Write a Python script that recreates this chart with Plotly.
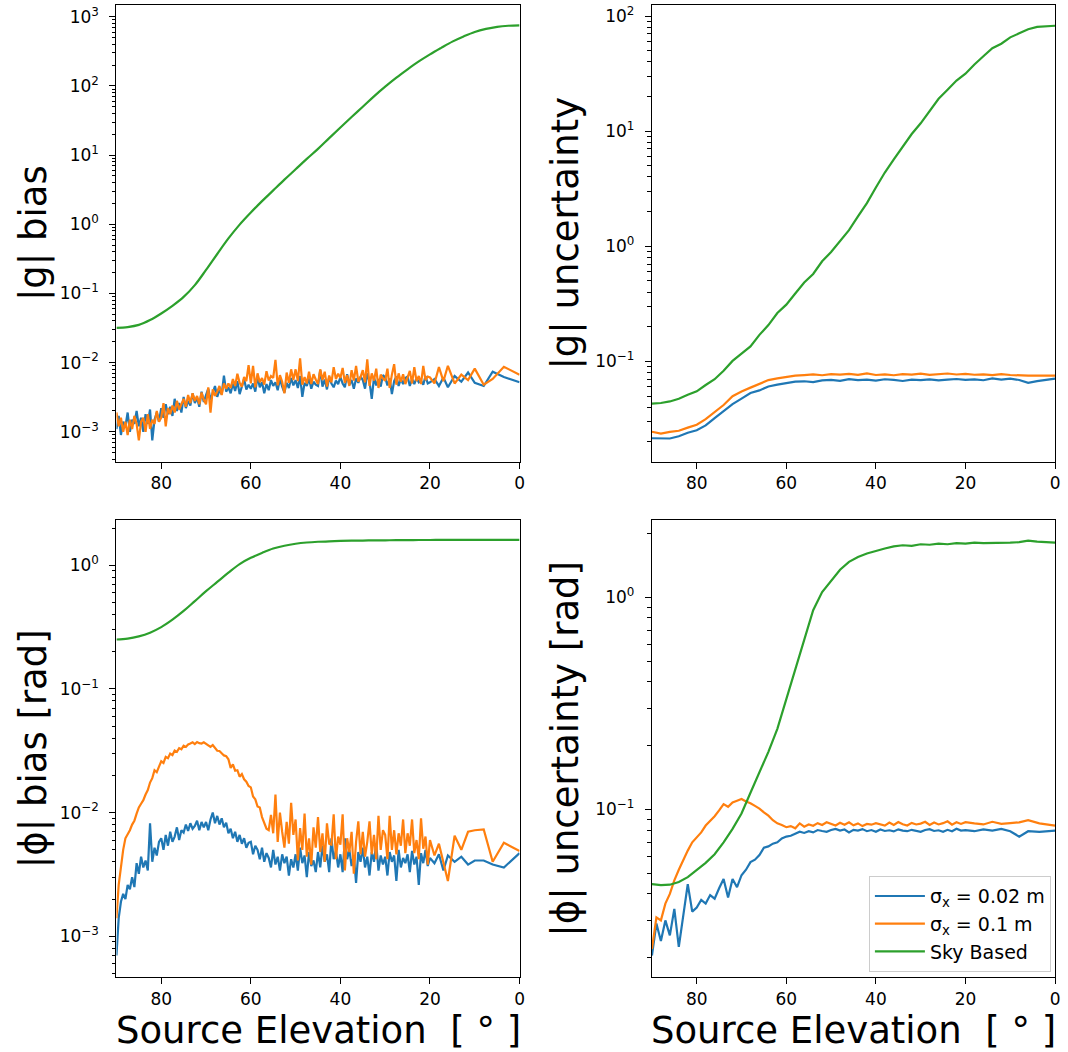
import plotly.graph_objects as go

BLUE = "#1f77b4"
ORANGE = "#ff7f0e"
GREEN = "#2ca02c"
FONT = "DejaVu Sans"

# ---- elevation grids (degrees) ----
ELEV_FINE = [90 - 0.5 * i for i in range(141)] + [19, 18, 17, 16, 14.5, 13, 11.5, 10, 8, 6, 3.5, 0]
ELEV_DENSE = list(range(90, 19, -1)) + [18, 16, 14, 12, 10, 8, 6, 3.5, 0]
ELEV_STEP2 = list(range(90, 9, -2)) + [8, 6, 4, 0]
ELEV_STEP2_FULL = list(range(90, -1, -2))
ELEV_STEP25 = [90 - 2.5 * i for i in range(37)]

SERIES_NAMES = ["σ<sub>x</sub> = 0.02 m", "σ<sub>x</sub> = 0.1 m", "Sky Based"]

# ---- |g| bias (antenna-based series in units of 1e-3) ----
g_bias_002_milli = [
    1.1, 1.7, 0.9, 1.4, 1.2, 1.9, 1.0, 1.5, 1.3, 2.0,
    1.2, 1.6, 1.0, 1.8, 1.3, 2.1, 0.75, 1.5, 1.9, 1.4,
    2.2, 1.6, 2.5, 1.8, 2.3, 1.7, 3.0, 2.0, 2.6, 1.9,
    3.2, 2.2, 2.8, 2.4, 3.6, 2.6, 3.1, 2.3, 3.8, 2.7,
    3.4, 4.2, 2.9, 3.7, 4.6, 3.2, 4.0, 3.5, 6.5, 3.8,
    4.4, 3.6, 5.0, 3.9, 5.4, 3.5, 4.6, 5.8, 4.1, 4.8,
    4.2, 5.0, 3.8, 6.3, 4.4, 5.2, 3.6, 4.9, 4.0, 5.6,
    4.6, 5.2, 4.0, 5.8, 4.5, 3.7, 5.1, 4.3, 6.0, 4.7,
    5.6, 4.3, 6.4, 3.2, 5.1, 4.6, 5.9, 4.2, 5.3, 4.8,
    4.6, 7.8, 4.5, 5.7, 4.1, 6.2, 5.0, 4.4, 5.5, 4.9,
    6.2, 5.0, 4.4, 6.8, 4.8, 5.6, 4.2, 5.9, 5.1, 6.3,
    5.6, 4.2, 7.0, 5.3, 3.0, 6.1, 4.7, 5.8, 4.5, 6.6,
    6.1, 4.7, 5.9, 3.5, 5.4, 6.3, 4.6, 5.8, 4.9, 6.0,
    6.3, 4.6, 5.8, 4.9, 6.0, 5.2, 5.5, 4.8, 6.4, 5.0,
    5.2,
    5.8, 4.6, 6.1, 4.4, 6.4, 5.3, 7.2, 5.1, 4.6, 7.4, 6.2, 5.2,
]
g_bias_01_milli = [
    1.9, 1.2, 1.6, 1.0, 1.4, 0.9, 1.5, 1.1, 1.7, 1.3,
    0.75, 1.4, 1.6, 1.0, 1.8, 1.1, 1.5, 1.3, 2.0, 1.4,
    1.6, 2.6, 1.2, 2.2, 1.8, 2.4, 1.9, 2.8, 2.1, 2.5,
    3.0, 2.3, 3.4, 2.6, 3.6, 2.8, 3.3, 2.5, 3.7, 2.9,
    2.5, 4.4, 1.9, 4.1, 3.3, 3.8, 4.6, 3.4, 5.0, 4.2,
    5.0, 4.3, 5.8, 4.6, 6.9, 5.1, 4.5, 6.2, 5.4, 9.2,
    5.0, 9.0, 4.4, 7.0, 5.2, 6.0, 4.8, 7.5, 5.5, 6.4,
    6.0, 11.0, 4.7, 6.6, 5.3, 3.6, 7.2, 5.1, 8.0, 5.6,
    8.0, 5.4, 11.5, 4.8, 6.2, 5.0, 7.4, 4.9, 6.8, 5.7,
    4.9, 8.0, 5.6, 7.4, 4.5, 6.5, 5.2, 8.6, 5.8, 6.9,
    6.0, 8.4, 5.1, 6.6, 4.6, 7.8, 5.5, 9.0, 5.3, 6.2,
    7.8, 5.2, 11.2, 4.6, 7.0, 5.5, 8.2, 4.3, 6.7, 5.9,
    5.5, 8.2, 4.3, 6.7, 9.5, 4.8, 7.0, 5.3, 6.8, 4.9,
    6.1, 7.6, 5.0, 8.6, 5.4, 6.4, 4.9, 9.0, 5.6, 6.3,
    6.1,
    5.0, 8.6, 5.4, 9.0, 5.0, 6.7, 5.6, 8.2, 4.8, 5.8, 8.7, 6.7,
]
g_bias_sky = [
    0.0319, 0.0327, 0.0351, 0.0412, 0.0513, 0.0661, 0.0891, 0.132, 0.219, 0.372,
    0.624, 0.989, 1.48, 2.16, 3.09, 4.42, 6.24, 8.81, 12.3, 17.6,
    25.1, 35.5, 50.1, 70.8, 97.7, 132, 174, 226, 286, 355,
    437, 519, 603, 668, 716, 741, 750,
]

# ---- |g| uncertainty ----
g_unc_002 = [
    0.0215, 0.0213, 0.0214, 0.0224, 0.0240, 0.0252, 0.0278, 0.0322, 0.0368, 0.0425,
    0.0475, 0.0532, 0.0560, 0.0605, 0.0628, 0.0645, 0.0668, 0.0672, 0.0662, 0.0685,
    0.0690, 0.0678, 0.0702, 0.0688, 0.0695, 0.0682, 0.0700, 0.0690, 0.0676, 0.0695,
    0.0688, 0.0698, 0.0684, 0.0694, 0.0703, 0.0690, 0.0698, 0.0686, 0.0712, 0.0694,
    0.0708,
    0.0690, 0.0652, 0.0675, 0.0708,
]
g_unc_01 = [
    0.0245, 0.0236, 0.0244, 0.0250, 0.0266, 0.0282, 0.0315, 0.0365, 0.0418, 0.0498,
    0.0548, 0.0592, 0.0640, 0.0688, 0.0712, 0.0735, 0.0752, 0.0760, 0.0770, 0.0758,
    0.0774, 0.0768, 0.0780, 0.0765, 0.0788, 0.0762, 0.0770, 0.0758, 0.0775, 0.0768,
    0.0782, 0.0764, 0.0776, 0.0785, 0.0770, 0.0778, 0.0766, 0.0772, 0.0760, 0.0775,
    0.0762,
    0.0752, 0.0752, 0.0752, 0.0752,
]
g_unc_sky = [
    0.0430, 0.0435, 0.0449, 0.0473, 0.0513, 0.0550, 0.0624, 0.0700, 0.0830, 0.1010,
    0.117, 0.135, 0.170, 0.207, 0.263, 0.311, 0.389, 0.484, 0.575, 0.741,
    0.891, 1.11, 1.38, 1.82, 2.37, 3.24, 4.37, 5.69, 7.24, 9.44,
    11.7, 14.8, 19.1, 22.9, 27.5, 31.6, 38.0, 44.7, 52.5, 57.5,
    65.3, 70.8, 76.7, 80.4, 81.7, 82.4,
]

# ---- |phi| bias [rad] (antenna-based series in units of 1e-3) ----
phi_bias_002_milli = [
    0.7, 1.4, 1.9, 2.2, 2.0, 2.6, 2.4, 3.0, 2.5, 3.9,
    3.2, 4.4, 3.6, 4.1, 3.4, 8.2, 4.0, 5.2, 4.5, 5.8,
    6.2, 5.0, 6.6, 5.4, 7.0, 5.8, 6.4, 7.6, 6.0, 7.2,
    6.9, 8.0, 7.1, 8.2, 7.4, 7.8, 8.6, 7.2, 8.4, 7.6,
    8.4, 7.2, 8.8, 10.0, 8.2, 9.4, 8.0, 9.0, 7.6, 8.3,
    6.8, 7.4, 6.2, 7.0, 5.8, 6.6, 5.6, 6.2, 5.2, 5.7,
    5.8, 4.6, 5.4, 5.0, 4.2, 5.2, 4.0, 4.7, 4.3, 3.6,
    5.0, 3.8, 4.4, 3.4, 4.6, 3.9, 4.4, 3.1, 4.2, 3.6,
    4.6, 3.4, 5.2, 3.9, 4.5, 3.0, 4.8, 3.7, 4.1, 3.3,
    4.8, 3.6, 5.4, 4.0, 4.6, 3.3, 6.2, 4.2, 4.9, 3.6,
    4.6, 3.3, 6.2, 4.2, 5.0, 3.7, 4.5, 2.7, 4.8, 4.0,
    5.2, 3.6, 4.4, 3.1, 4.8, 4.0, 5.6, 3.4, 4.5, 3.8,
    4.4, 3.1, 4.8, 4.0, 4.5, 2.8, 5.0, 3.6, 4.3, 3.9,
    4.6, 3.3, 4.9, 3.8, 4.4, 2.6, 4.7, 3.9, 5.0, 3.7,
    4.3,
    3.9, 4.6, 3.4, 4.5, 4.0, 4.4, 3.8, 4.1, 4.1, 3.8, 3.6, 4.7,
]
phi_bias_01_milli = [
    1.4, 2.6, 3.6, 5.0, 6.2, 6.6, 7.2, 8.0, 8.6, 9.8,
    11.0, 11.8, 12.6, 14.0, 15.2, 17.5, 19.0, 22.0, 21.2, 23.5,
    26.0, 25.2, 28.2, 27.5, 30.0, 29.2, 31.8, 31.0, 33.2, 32.5,
    34.8, 34.0, 35.6, 36.2, 37.0, 35.8, 37.2, 36.4, 36.2, 37.0,
    35.8, 34.6, 34.0, 35.2, 33.0, 31.6, 31.5, 30.2, 29.0, 28.6,
    27.0, 23.0, 24.5, 21.8, 22.0, 19.5, 20.5, 18.6, 17.8, 16.4,
    16.0, 13.5, 12.8, 11.2, 11.0, 9.2, 8.2, 7.4, 7.2, 9.6,
    6.8, 14.0, 5.8, 10.0, 7.0, 5.2, 8.4, 5.6, 12.0, 6.6,
    8.8, 4.1, 7.5, 5.0, 9.8, 4.4, 6.2, 3.8, 7.6, 5.2,
    9.2, 4.8, 6.8, 4.0, 8.2, 5.6, 5.5, 9.7, 4.2, 6.4,
    5.5, 9.7, 3.4, 6.2, 4.8, 7.0, 3.2, 5.8, 8.5, 4.6,
    7.0, 4.4, 5.8, 8.5, 4.6, 6.6, 4.2, 9.4, 5.0, 7.2,
    6.6, 4.2, 9.4, 5.0, 7.2, 4.6, 6.8, 5.4, 8.8, 4.7,
    6.8, 5.4, 8.8, 4.7, 6.0, 4.2, 9.0, 5.1, 6.4, 3.8,
    6.0,
    4.5, 5.6, 4.0, 2.8, 6.5, 5.0, 7.0, 7.2, 7.3, 4.0, 5.7, 4.9,
]
phi_bias_sky = [
    0.251, 0.255, 0.266, 0.285, 0.316, 0.363, 0.427, 0.513, 0.617, 0.733,
    0.871, 1.023, 1.148, 1.259, 1.365, 1.439, 1.493, 1.528, 1.549, 1.563,
    1.574, 1.581, 1.585, 1.589, 1.592, 1.596, 1.597, 1.600, 1.600, 1.603,
    1.603, 1.604, 1.605, 1.606, 1.606, 1.607, 1.607,
]

# ---- |phi| uncertainty [rad] ----
phi_unc_002 = [
    0.0205, 0.0290, 0.0240, 0.0300, 0.0255, 0.0340, 0.0225, 0.0310, 0.0445, 0.0330,
    0.0345, 0.0375, 0.0360, 0.0395, 0.0380, 0.0425, 0.0470, 0.0385, 0.0470, 0.0430,
    0.0490, 0.0520, 0.0565, 0.0580, 0.0610, 0.0660, 0.0670, 0.0690, 0.0700, 0.0730,
    0.0745, 0.0752, 0.0770, 0.0785, 0.0775, 0.0790, 0.0780, 0.0800, 0.0792, 0.0785,
    0.0800, 0.0810, 0.0795, 0.0805, 0.0780, 0.0802, 0.0795, 0.0808, 0.0790, 0.0800,
    0.0785, 0.0805, 0.0792, 0.0798, 0.0788, 0.0806, 0.0795, 0.0790, 0.0802, 0.0794,
    0.0785, 0.0800, 0.0808, 0.0792, 0.0798, 0.0785, 0.0802, 0.0790, 0.0812, 0.0795,
    0.0800,
    0.0790, 0.0805, 0.0795, 0.0810, 0.0790, 0.0745, 0.0790, 0.0785, 0.0795,
]
phi_unc_01 = [
    0.0220, 0.0310, 0.0300, 0.0360, 0.0400, 0.0463, 0.0520, 0.0580, 0.0640, 0.0700,
    0.0740, 0.0780, 0.0840, 0.0880, 0.0930, 0.0990, 0.1060, 0.1030, 0.1080, 0.1100,
    0.1120, 0.1090, 0.1070, 0.1040, 0.1010, 0.0970, 0.0935, 0.0890, 0.0860, 0.0845,
    0.0825, 0.0835, 0.0815, 0.0860, 0.0830, 0.0850, 0.0838, 0.0862, 0.0845, 0.0870,
    0.0852, 0.0840, 0.0865, 0.0848, 0.0870, 0.0842, 0.0860, 0.0835, 0.0855, 0.0848,
    0.0862, 0.0850, 0.0840, 0.0868, 0.0845, 0.0872, 0.0852, 0.0840, 0.0865, 0.0850,
    0.0858, 0.0875, 0.0845, 0.0868, 0.0850, 0.0862, 0.0880, 0.0848, 0.0870, 0.0855,
    0.0872,
    0.0860, 0.0850, 0.0875, 0.0855, 0.0862, 0.0870, 0.0890, 0.0860, 0.0840,
]
phi_unc_sky = [
    0.0445, 0.0440, 0.0442, 0.0455, 0.0480, 0.0517, 0.0560, 0.0615, 0.0700, 0.0810,
    0.0957, 0.120, 0.150, 0.187, 0.240, 0.330, 0.450, 0.620, 0.870, 1.06,
    1.20, 1.35, 1.47, 1.55, 1.61, 1.66, 1.70, 1.74, 1.76, 1.75,
    1.78, 1.77, 1.79, 1.78, 1.80, 1.79, 1.81, 1.80, 1.80, 1.81,
    1.81, 1.82, 1.85, 1.83, 1.82, 1.81,
]

MILLI = 1e-3
g_bias_002 = [v * MILLI for v in g_bias_002_milli]
g_bias_01 = [v * MILLI for v in g_bias_01_milli]
phi_bias_002 = [v * MILLI for v in phi_bias_002_milli]
phi_bias_01 = [v * MILLI for v in phi_bias_01_milli]

for arr in (g_bias_002, g_bias_01, phi_bias_002, phi_bias_01):
    assert len(arr) == len(ELEV_FINE), len(arr)
for arr in (phi_unc_002, phi_unc_01):
    assert len(arr) == len(ELEV_DENSE)
for arr in (g_unc_002, g_unc_01):
    assert len(arr) == len(ELEV_STEP2)
for arr in (g_unc_sky, phi_unc_sky):
    assert len(arr) == len(ELEV_STEP2_FULL)
for arr in (g_bias_sky, phi_bias_sky):
    assert len(arr) == len(ELEV_STEP25)

# panel -> (axis suffix, [(x, y) for each series], smooth sky curve)
panels = [
    ("", [(ELEV_FINE, g_bias_002), (ELEV_FINE, g_bias_01), (ELEV_STEP25, g_bias_sky)], True),
    ("2", [(ELEV_STEP2, g_unc_002), (ELEV_STEP2, g_unc_01), (ELEV_STEP2_FULL, g_unc_sky)], False),
    ("3", [(ELEV_FINE, phi_bias_002), (ELEV_FINE, phi_bias_01), (ELEV_STEP25, phi_bias_sky)], True),
    ("4", [(ELEV_DENSE, phi_unc_002), (ELEV_DENSE, phi_unc_01), (ELEV_STEP2_FULL, phi_unc_sky)], False),
]

fig = go.Figure()
colors = [BLUE, ORANGE, GREEN]
for idx, (suffix, series, smooth_sky) in enumerate(panels):
    for k, (xs, ys) in enumerate(series):
        shape = "spline" if (k == 2 and smooth_sky) else "linear"
        fig.add_trace(go.Scatter(
            x=xs, y=ys, mode="lines", name=SERIES_NAMES[k],
            line=dict(color=colors[k], width=2.2, shape=shape),
            xaxis="x" + suffix, yaxis="y" + suffix,
            showlegend=(idx == 3), hoverinfo="skip",
        ))

W, H = 1068, 1052


def px_x(p):
    return p / W


def px_y(p):
    return 1 - p / H


def sup_label(e):
    s = str(e).replace("-", "\u2212")
    return f"10<sup>{s}</sup>"


def log_axis(lo_exp, hi_exp, rng, dom):
    decades = list(range(lo_exp, hi_exp + 1))
    minors = []
    for e in range(lo_exp - 1, hi_exp + 1):
        for m in range(2, 10):
            minors.append(m * 10.0 ** e)
    return dict(
        type="log", range=rng, domain=dom,
        tickmode="array", tickvals=[10.0 ** e for e in decades],
        ticktext=[sup_label(e) for e in decades],
        ticks="outside", ticklen=6, tickwidth=1.2, tickcolor="black",
        ticklabelstandoff=7,
        minor=dict(tickmode="array", tickvals=minors, ticks="outside",
                   ticklen=3.5, tickwidth=0.9, tickcolor="black"),
        showline=True, linecolor="black", linewidth=1.2, mirror=True,
        showgrid=False, zeroline=False,
        tickfont=dict(family=FONT, size=17, color="black"),
    )


def lin_xaxis(dom, anchor):
    return dict(
        range=[90, 0], domain=dom, anchor=anchor,
        tickmode="array", tickvals=[80, 60, 40, 20, 0],
        ticks="outside", ticklen=6, tickwidth=1.2, tickcolor="black",
        showline=True, linecolor="black", linewidth=1.2, mirror=True,
        showgrid=False, zeroline=False,
        tickfont=dict(family=FONT, size=17, color="black"),
    )


left_dom = [px_x(117), px_x(522)]
right_dom = [px_x(655), px_x(1060)]
top_dom = [px_y(461), px_y(4)]
bot_dom = [px_y(977), px_y(519)]

layout = dict(
    width=W, height=H,
    margin=dict(l=0, r=0, t=0, b=0),
    paper_bgcolor="white", plot_bgcolor="white",
    font=dict(family=FONT, color="black"),
    xaxis=lin_xaxis(left_dom, "y"),
    xaxis2=lin_xaxis(right_dom, "y2"),
    xaxis3=lin_xaxis(left_dom, "y3"),
    xaxis4=lin_xaxis(right_dom, "y4"),
    yaxis={**log_axis(-3, 3, [-3.43, 3.17], top_dom), "anchor": "x"},
    yaxis2={**log_axis(-1, 2, [-1.87, 2.096], top_dom), "anchor": "x2"},
    yaxis3={**log_axis(-3, 0, [-3.33, 0.37], bot_dom), "anchor": "x3"},
    yaxis4={**log_axis(-1, 0, [-1.79, 0.367], bot_dom), "anchor": "x4"},
    legend=dict(
        x=px_x(873), y=px_y(876), xanchor="left", yanchor="top",
        bgcolor="rgba(255,255,255,0.8)", bordercolor="#cccccc", borderwidth=1,
        font=dict(family=FONT, size=19, color="black"),
        traceorder="normal", tracegroupgap=0, itemwidth=50,
    ),
)
fig.update_layout(**layout)

TITLE_SIZE = 37
ylabels = [
    ("|g| bias", 33, (4 + 461) / 2),
    ("|g| uncertainty", 568, (4 + 461) / 2),
    ("|ϕ| bias [rad]", 33, (519 + 977) / 2),
    ("|ϕ| uncertainty [rad]", 568, (519 + 977) / 2),
]
for text, xp, yp in ylabels:
    fig.add_annotation(
        text=text, xref="paper", yref="paper", x=px_x(xp), y=px_y(yp),
        xanchor="center", yanchor="middle", textangle=-90, showarrow=False,
        font=dict(family=FONT, size=TITLE_SIZE, color="black"),
    )
for xp in ((117 + 522) / 2, (655 + 1060) / 2):
    fig.add_annotation(
        text="Source Elevation  [ ° ]", xref="paper", yref="paper",
        x=px_x(xp), y=px_y(1030), xanchor="center", yanchor="middle",
        showarrow=False, font=dict(family=FONT, size=TITLE_SIZE, color="black"),
    )

fig.write_html("out.html")
